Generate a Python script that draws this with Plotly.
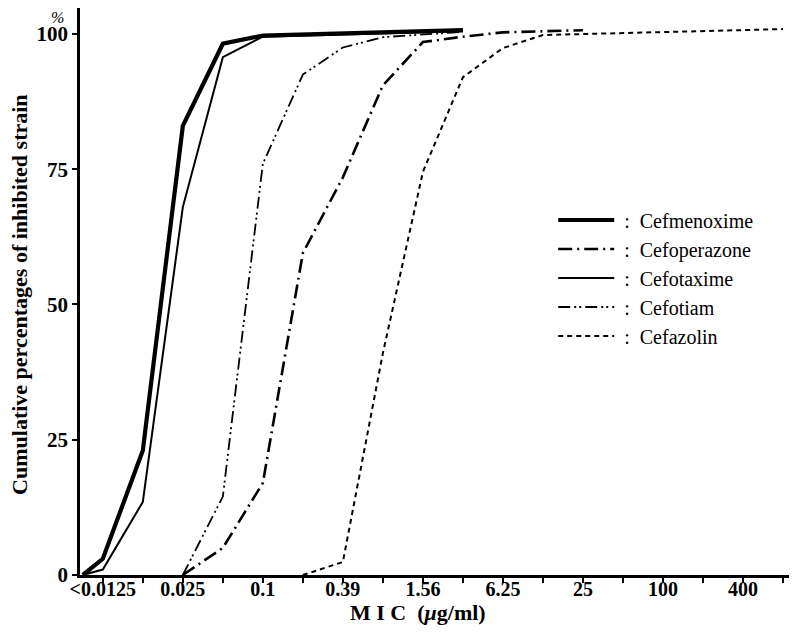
import plotly.graph_objects as go

# MIC dilution steps (index = position on the axis)
MIC_LABELS = ["<0.0125", "0.0125", "0.025", "0.05", "0.1", "0.2", "0.39", "0.78",
              "1.56", "3.13", "6.25", "12.5", "25", "50", "100", "200", "400", "800"]
TICK_SHOWN = ["<0.0125", "0.025", "0.1", "0.39", "1.56", "6.25", "25", "100", "400"]

# step index (-0.5 = axis origin) and cumulative % of inhibited strains
cefmenoxime_step = [-0.5, 0, 1, 2, 3, 4, 9]
cefmenoxime_pct = [0, 3, 23, 83, 98.2, 99.7, 100.7]

cefoperazone_step = [2, 3, 4, 5, 6, 7, 8, 9, 10, 12]
cefoperazone_pct = [0, 5, 17, 59.5, 73.5, 90.5, 98.5, 99.5, 100.3, 100.7]

cefotaxime_step = [-0.5, 0, 1, 2, 3, 4, 9]
cefotaxime_pct = [0, 1, 13.5, 68, 95.7, 99.5, 100.5]

cefotiam_step = [2, 3, 4, 5, 6, 7, 9]
cefotiam_pct = [0, 14.5, 76, 92.5, 97.5, 99.4, 100.4]

cefazolin_step = [5, 6, 7, 8, 9, 10, 11, 17]
cefazolin_pct = [0, 2.4, 41, 74.5, 92, 97.4, 99.8, 100.9]

DRUGS = ["Cefmenoxime", "Cefoperazone", "Cefotaxime", "Cefotiam", "Cefazolin"]

SERIF = "Liberation Serif, Times New Roman, serif"
NB = "\u00a0"

series = [
    (cefmenoxime_step, cefmenoxime_pct, 4.2, "solid"),
    (cefoperazone_step, cefoperazone_pct, 2.6, "14px,5px,2px,5px"),
    (cefotaxime_step, cefotaxime_pct, 2.0, "solid"),
    (cefotiam_step, cefotiam_pct, 1.8, "12px,4px,2px,3px,2px,4px"),
    (cefazolin_step, cefazolin_pct, 2.0, "5px,4px"),
]

fig = go.Figure()
for drug, (xs, ys, w, dash) in zip(DRUGS, series):
    fig.add_trace(go.Scatter(
        x=xs, y=ys, mode="lines", name=NB + ":" + NB * 2 + drug,
        line=dict(color="black", width=w, dash=dash),
    ))

tickvals = list(range(len(MIC_LABELS)))
ticktext = [lab if lab in TICK_SHOWN else "" for lab in MIC_LABELS]

fig.update_layout(
    width=789, height=624,
    margin=dict(l=72, r=0, t=0, b=57, autoexpand=False),
    paper_bgcolor="white", plot_bgcolor="white",
    font=dict(family=SERIF, color="black"),
    showlegend=True,
    legend=dict(
        xref="paper", yref="paper",
        x=0.66, y=0.6605, xanchor="left", yanchor="top",
        font=dict(family=SERIF, size=20, color="black"),
        bgcolor="rgba(0,0,0,0)", itemwidth=56, tracegroupgap=0,
    ),
    xaxis=dict(
        range=[-0.57, 17.35], tickmode="array", tickvals=tickvals, ticktext=ticktext,
        tickangle=0, ticklabelstandoff=-11,
        showgrid=False, zeroline=False, showline=True, linecolor="black", linewidth=2.5,
        ticks="outside", ticklen=5, tickwidth=2, tickcolor="black",
        tickfont=dict(family=SERIF, size=20, color="black", weight="bold"),
    ),
    yaxis=dict(
        range=[0, 104.8], tickmode="array", tickvals=[0, 25, 50, 75, 100],
        showgrid=False, zeroline=False, showline=True, linecolor="black", linewidth=2.5,
        ticks="outside", ticklen=5, tickwidth=2, tickcolor="black",
        tickfont=dict(family=SERIF, size=21, color="black", weight="bold"),
    ),
    annotations=[
        dict(text="Cumulative percentages of inhibited strain", textangle=-90,
             xref="paper", yref="paper", x=-0.0837, y=0.494, showarrow=False,
             xanchor="center", yanchor="middle",
             font=dict(family=SERIF, size=22, color="black", weight="bold")),
        dict(text="M I C  (<i>μ</i>g/ml)",
             xref="paper", yref="paper", x=0.471, y=-0.067, showarrow=False,
             xanchor="center", yanchor="middle",
             font=dict(family=SERIF, size=22, color="black", weight="bold")),
        dict(text="<i>%</i>",
             xref="paper", yref="paper", x=-0.0307, y=1.0, showarrow=False,
             xanchor="center", yanchor="top", borderpad=0,
             font=dict(family=SERIF, size=16, color="black")),
    ],
)

fig.write_html("out.html")
